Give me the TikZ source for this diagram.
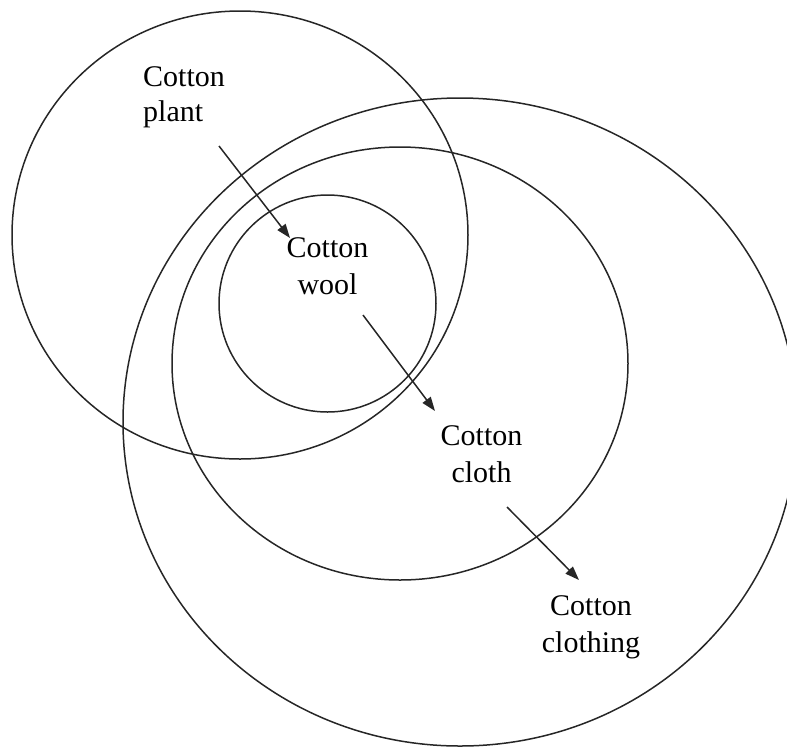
\documentclass[tikz,border=0pt]{standalone}
\usepackage{fontspec}
\setmainfont{Liberation Serif}
\usetikzlibrary{arrows.meta}
\begin{document}
\begin{tikzpicture}[x=1pt,y=-1pt,
  ring/.style={draw=black!85,line width=1.5pt},
  flow/.style={draw=black!85,line width=1.5pt,-{Triangle[length=14pt,width=10pt]}},
  lbl/.style={inner sep=0pt,anchor=base,font=\fontsize{30}{37.5}\selectfont}]
\useasboundingbox (0,0) rectangle (787,748);
% circles
\draw[ring] (240,235) ellipse [x radius=228,y radius=224];
\draw[ring] (460,422) ellipse [x radius=337,y radius=324];
\draw[ring] (400,363.5) ellipse [x radius=228,y radius=216.5];
\draw[ring] (327.5,303.5) circle [radius=108.5];
% labels
\node[lbl,anchor=base west,font=\fontsize{30}{35}\selectfont] (plant) at (143,86) {\begin{tabular}[t]{@{}l@{}}Cotton\\plant\end{tabular}};
\node[lbl] (wool) at (327.5,257) {\begin{tabular}[t]{@{}c@{}}Cotton\\wool\end{tabular}};
\node[lbl] (cloth) at (481.5,445) {\begin{tabular}[t]{@{}c@{}}Cotton\\cloth\end{tabular}};
\node[lbl] (clothing) at (591,615) {\begin{tabular}[t]{@{}c@{}}Cotton\\clothing\end{tabular}};
% arrow ends
\coordinate (a1s) at (219,146);
\coordinate (a1e) at (290,238);
\coordinate (a2s) at (363,315);
\coordinate (a2e) at (435,411);
\coordinate (a3s) at (507,507);
\coordinate (a3e) at (579,580);
\draw[flow] (a1s) -- (a1e);
\draw[flow] (a2s) -- (a2e);
\draw[flow] (a3s) -- (a3e);
\end{tikzpicture}
\end{document}
